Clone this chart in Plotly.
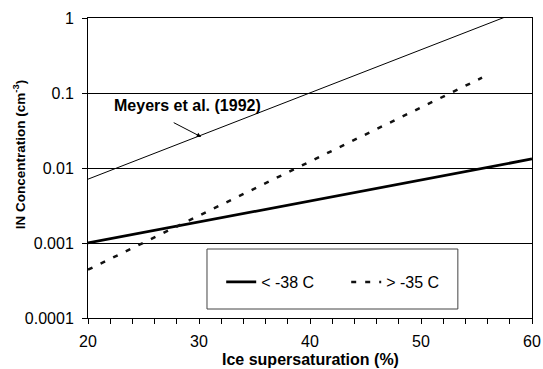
import plotly.graph_objects as go

# Data
meyers_x = [20, 60]
meyers_y = [0.0071, 1.42]

cold_x = [20, 60]          # < -38 C
cold_y = [0.001, 0.0132]

warm_x = [20, 55.5]        # > -35 C
warm_y = [0.00044, 0.16]

y_tickvals = [0.0001, 0.001, 0.01, 0.1, 1]
y_ticktext = ["0.0001", "0.001", "0.01", "0.1", "1"]
x_tickvals = [20, 30, 40, 50, 60]

FONT = "Liberation Sans, Arial, sans-serif"

fig = go.Figure()
fig.add_trace(go.Scatter(x=meyers_x, y=meyers_y, mode="lines",
                         line=dict(color="black", width=1), showlegend=False))
fig.add_trace(go.Scatter(x=cold_x, y=cold_y, mode="lines", name="< -38 C",
                         line=dict(color="black", width=2.75)))
fig.add_trace(go.Scatter(x=warm_x, y=warm_y, mode="lines", name="> -35 C",
                         line=dict(color="#111", width=2.5, dash="5px,9px")))

# legend box
fig.add_shape(type="rect", xref="paper", yref="paper",
              x0=0.268, x1=0.833, y0=0.03, y1=0.23,
              line=dict(color="#444", width=1), fillcolor="white", layer="above")

fig.add_annotation(x=22.2, y=-1.17, xref="x", yref="y", text="<b>Meyers et al. (1992)</b>",
                   showarrow=False, font=dict(family=FONT, size=16, color="black"),
                   xanchor="left", yanchor="middle")
fig.add_annotation(x=30.2, y=-1.585, xref="x", yref="y", text="",
                   showarrow=True, ax=-29, ay=-15, arrowhead=2, arrowsize=0.9,
                   arrowwidth=1, arrowcolor="black")

# axis titles (placed as annotations to match reference positions)
fig.add_annotation(x=-0.155, y=0.543, xref="paper", yref="paper",
                   text="<b>IN Concentration (cm<sup>-3</sup>)</b>", textangle=-90,
                   showarrow=False, xanchor="center", yanchor="middle",
                   font=dict(family=FONT, size=13.5, color="black"))
fig.add_annotation(x=0.5, y=-0.137, xref="paper", yref="paper",
                   text="<b>Ice supersaturation (%)</b>",
                   showarrow=False, xanchor="center", yanchor="middle",
                   font=dict(family=FONT, size=16, color="black"))

fig.update_layout(
    width=543, height=369,
    margin=dict(l=88, r=11, t=18, b=51, autoexpand=False),
    paper_bgcolor="white", plot_bgcolor="white",
    font=dict(family=FONT, size=16, color="black"),
    legend=dict(orientation="h", x=0.3, xanchor="left", y=0.12, yanchor="middle",
                bgcolor="rgba(0,0,0,0)", borderwidth=0, entrywidth=80,
                font=dict(family=FONT, size=16, color="black"), itemwidth=30),
    xaxis=dict(range=[20, 60], tickvals=x_tickvals, ticks="outside", ticklen=5,
               tickcolor="black", showline=True, linecolor="black", linewidth=1,
               mirror=True, showgrid=False, zeroline=False, ticklabelstandoff=4,
               minor=dict(dtick=2, ticks="outside", ticklen=5, tickcolor="black", showgrid=False)),
    yaxis=dict(type="log", range=[-4, 0], tickvals=y_tickvals, ticktext=y_ticktext,
               ticks="outside", ticklen=5, tickcolor="black", showline=True,
               linecolor="black", linewidth=1, mirror=True, showgrid=True,
               gridcolor="black", gridwidth=1, zeroline=False, ticklabelstandoff=5),
)

fig.write_html("out.html")
